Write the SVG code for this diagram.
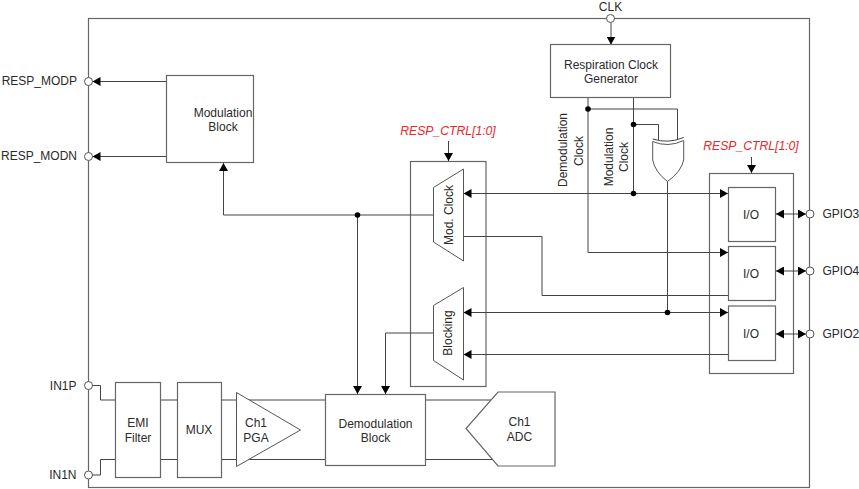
<svg xmlns="http://www.w3.org/2000/svg" width="859" height="489" viewBox="0 0 859 489">
<defs>
<style>
text{font-family:"Liberation Sans",Arial,sans-serif;font-size:12px;fill:#2a2a2a;text-anchor:middle}
.l{text-anchor:start}.e{text-anchor:end}
.r{fill:#e8262a;font-style:italic;font-size:12.2px}
.b{fill:#fff;stroke:#666;stroke-width:1.2}
.t{fill:#fff;stroke:#555;stroke-width:1}
.w{fill:none;stroke:#444;stroke-width:1}
.p{fill:#fff;stroke:#555;stroke-width:1}
.a{fill:#000;stroke:none}
</style>
<marker id="h" viewBox="0 0 8 9" refX="8" refY="4.500" markerWidth="8" markerHeight="9" markerUnits="userSpaceOnUse" orient="auto-start-reverse"><path class="a" d="M0 0L8 4.500L0 9Z"/></marker>
<circle id="d" r="2.800" class="a"/>
</defs>
<rect id="chip" x="88.500" y="18.500" width="721" height="469" fill="#fff" stroke="#666" stroke-width="1.200"/>
<g id="ctrl-left"><rect class="b" x="410.500" y="161.500" width="75.500" height="225"/></g>
<g id="ctrl-right"><rect class="b" x="709.500" y="173.500" width="84" height="200"/></g>
<g id="connectors" class="w">
<path d="M611 22.500V44.500" marker-end="url(#h)"/>
<path d="M166 81.500H92.500" marker-end="url(#h)"/>
<path d="M166 156.500H92.500" marker-end="url(#h)"/>
<path d="M434 215H223.500V163" marker-end="url(#h)"/>
<path d="M357.500 215V394" marker-end="url(#h)"/>
<path d="M434 333H385.500V394" marker-end="url(#h)"/>
<path d="M448.500 141V161" marker-end="url(#h)"/>
<path d="M751.500 157V173" marker-end="url(#h)"/>
<path d="M588 98V252.500H728" marker-end="url(#h)"/>
<path d="M588 109H677.500V140"/>
<path d="M633.500 98V193.500"/>
<path d="M633.500 124.500H658.500V140"/>
<path d="M667.500 181V312.500"/>
<path d="M463.500 193.500H728" marker-start="url(#h)" marker-end="url(#h)"/>
<path d="M463.500 312.500H728" marker-start="url(#h)" marker-end="url(#h)"/>
<path d="M728 354.500H463.500" marker-end="url(#h)"/>
<path d="M463 236.500H542V295.500H728"/>
<path d="M776 214H806" marker-start="url(#h)" marker-end="url(#h)"/>
<path d="M776 271H806" marker-start="url(#h)" marker-end="url(#h)"/>
<path d="M776 334H806" marker-start="url(#h)" marker-end="url(#h)"/>
<path d="M92 385.500H100.500V400H116M92 475H100.500V459.500H116"/>
<path d="M116 400H500M116 459.500H500"/>
</g>
<g id="junctions">
<use href="#d" x="588" y="109"/><use href="#d" x="633.500" y="124.500"/><use href="#d" x="633.500" y="193.500"/>
<use href="#d" x="667.500" y="312.500"/><use href="#d" x="357.500" y="215"/>
</g>
<g id="pins">
<circle class="p" cx="610.500" cy="18.500" r="4"/><circle class="p" cx="88.500" cy="81.500" r="4"/><circle class="p" cx="88.500" cy="156.500" r="4"/>
<circle class="p" cx="88.500" cy="385.500" r="4"/><circle class="p" cx="88.500" cy="475" r="4"/><circle class="p" cx="810" cy="214" r="4"/>
<circle class="p" cx="810" cy="271" r="4"/><circle class="p" cx="810" cy="334" r="4"/>
<text x="610.500" y="11">CLK</text>
<text class="e" x="77" y="85">RESP_MODP</text><text class="e" x="77" y="160">RESP_MODN</text>
<text class="e" x="76.500" y="390">IN1P</text><text class="e" x="76.500" y="479">IN1N</text>
<text class="l" x="822.500" y="218">GPIO3</text><text class="l" x="822.500" y="275">GPIO4</text><text class="l" x="822.500" y="338">GPIO2</text>
</g>
<g id="clock-gen"><rect class="b" x="550.500" y="44.500" width="120" height="53"/><text x="611" y="69">Respiration Clock</text><text x="611" y="83">Generator</text></g>
<g id="mod-block"><rect class="b" x="166.500" y="75.500" width="87" height="87"/><text x="223" y="117">Modulation</text><text x="223" y="131">Block</text></g>
<g id="mod-clock"><path class="t" d="M433.500 187.500L463.500 169V261L433.500 242Z"/><text transform="translate(452.500 215) rotate(-90)">Mod. Clock</text></g>
<g id="blocking"><path class="t" d="M433.500 305.500L463.500 287.500V380L433.500 360.500Z"/><text transform="translate(451.500 333) rotate(-90)">Blocking</text></g>
<g id="io3"><rect class="b" x="728.500" y="187.500" width="47" height="54"/><text x="751" y="219">I/O</text></g>
<g id="io4"><rect class="b" x="728.500" y="246.500" width="47" height="54"/><text x="751" y="278">I/O</text></g>
<g id="io2"><rect class="b" x="728.500" y="306" width="47" height="54.500"/><text x="751" y="338">I/O</text></g>
<g id="xor"><path class="t" d="M652.700 141.500Q668 148 683.700 140.500V160Q681 172 667.500 181.500Q655 172 652.700 160Z"/><path class="w" d="M652.700 139Q668 144 683.700 137.500"/></g>
<g id="emi"><rect class="b" x="115.500" y="382.500" width="45" height="95"/><text x="138" y="427">EMI</text><text x="138" y="442">Filter</text></g>
<g id="mux"><rect class="b" x="177.500" y="382.500" width="44" height="95"/><text x="199" y="434">MUX</text></g>
<g id="pga"><path class="t" d="M236.500 392.500L300.500 430L236.500 466.500Z"/><text x="256" y="427">Ch1</text><text x="256" y="442">PGA</text></g>
<g id="demod"><rect class="b" x="325.500" y="394.500" width="100" height="71"/><text x="375.500" y="428">Demodulation</text><text x="375.500" y="442">Block</text></g>
<g id="adc"><path class="b" d="M555 392H498L466 428.500L498 466H555Z"/><text x="519.500" y="426">Ch1</text><text x="519.500" y="441">ADC</text></g>
<g id="labels"><text class="r" x="448" y="135">RESP_CTRL[1:0]</text><text class="r" x="751" y="150">RESP_CTRL[1:0]</text>
<text transform="translate(567 150) rotate(-90)">Demodulation</text><text transform="translate(582.500 151) rotate(-90)">Clock</text>
<text transform="translate(613 157) rotate(-90)">Modulation</text><text transform="translate(628 157) rotate(-90)">Clock</text></g>
</svg>
